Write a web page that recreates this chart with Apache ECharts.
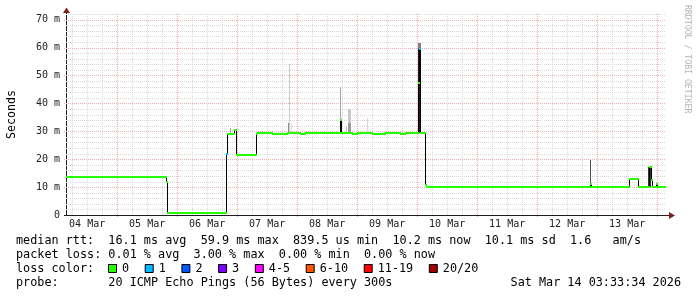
<!DOCTYPE html>
<html><head><meta charset="utf-8">
<script src="https://cdn.jsdelivr.net/npm/echarts@6/dist/echarts.min.js"></script>
<style>html,body{margin:0;padding:0;background:#fff}#c{width:697px;height:297px}</style>
</head><body><div id="c"></div>
<script>
// ---- data (x in hours since 04 Mar 00:00, y in milliseconds) ----
const startHour = 3.55, endHour = 243.55;
const dayLabels = ['04 Mar','05 Mar','06 Mar','07 Mar','08 Mar','09 Mar','10 Mar','11 Mar','12 Mar','13 Mar'];
const dayLabelHours = [12,36,60,84,108,132,156,180,204,228];
const yTickValues = [0,10,20,30,40,50,60,70];
const yTickLabels = ['0','10 m','20 m','30 m','40 m','50 m','60 m','70 m'];
const yMax = 72;
// median steps: [start hour, median ms, loss count]
const medianSteps = [
  [3.55,13.75,0],[43.6,11.9,0],[44.0,0.8,0],
  [67.4,21.9,1],[67.9,29.0,0],[70.8,30.6,0],[71.7,21.5,0],
  [79.4,29.0,0],[80.0,29.3,0],[86.0,29.1,0],[92.0,29.3,0],[97.0,29.0,0],[99.0,29.3,0],
  [104.0,29.5,0],[106.0,29.2,0],[113.3,34.0,0],[113.7,29.3,0],[118.0,29.0,0],[120.0,29.3,0],
  [126.0,29.1,0],[131.0,29.3,0],[137.0,29.0,0],[139.0,29.3,0],
  [144.5,47.3,0],[144.9,59.5,1],[145.3,29.2,0],
  [147.3,10.7,0],[147.6,10.1,0],
  [213.2,11.0,0],[213.6,10.1,0],
  [228.9,13.0,0],[232.3,10.1,0],
  [236.6,17.3,0],[237.6,12.5,0],[238.0,10.1,0],
  [239.6,11.0,0],[240.0,10.1,0]
];
// smoke: [start hour, end hour, low ms, high ms, density 0..1]
const smoke = [
  [69.3,69.7,29.0,31.3,0.35],
  [92.2,92.6,29.3,33.0,0.45],
  [92.6,93.0,29.3,54.0,0.2],
  [93.7,94.1,29.3,33.0,0.15],
  [113.3,113.7,34.0,46.0,0.35],
  [115.4,115.8,29.3,31.6,0.25],
  [116.3,117.5,29.3,38.0,0.22],
  [116.3,117.5,29.3,33.0,0.4],
  [123.9,124.3,29.3,34.8,0.15],
  [144.3,145.6,29.2,59.5,0.9],
  [144.3,145.6,59.5,61.6,0.5],
  [213.1,213.5,10.1,19.7,0.7],
  [236.3,237.6,10.1,17.3,0.8]
];
const lossLabels = ['0','1','2','3','4-5','6-10','11-19','20/20'];
const lossColors = ['#26ff00','#00b8ff','#0059ff','#7e00ff','#ff00ff','#ff5500','#ff0000','#a10000'];
const legendLines = [
  'median rtt:  16.1 ms avg  59.9 ms max  839.5 us min  10.2 ms now  10.1 ms sd  1.6   am/s',
  'packet loss: 0.01 % avg  3.00 % max  0.00 % min  0.00 % now',
  'loss color:',
  'probe:       20 ICMP Echo Pings (56 Bytes) every 300s'
];
const stampText = 'Sat Mar 14 03:33:34 2026';
const watermark = 'RRDTOOL / TOBI OETIKER';

// ---- layout ----
const G = {left:66, top:14, width:600, height:201};
const MONO = '"DejaVu Sans Mono", monospace';
const LEG_FONT = '11.8px ' + MONO;
const axisColor = '#1f1f1f', arrowColor = '#801f1f';
const majorGrid = '#eeb0b0', minorGrid = '#d8d8d8';

// grid line items (derived)
const gridItems = [];
for (let h = 6; h < endHour; h += 6) if (h > startHour) gridItems.push(['v', h, h % 24 === 0 ? 1 : 0]);
for (let v = 2; v <= yMax; v += 2) gridItems.push(['h', v, v % 10 === 0 ? 1 : 0]);

const medianData = medianSteps.map((s, i) => [
  s[0], i + 1 < medianSteps.length ? medianSteps[i + 1][0] : endHour, s[1], s[2],
  i > 0 ? medianSteps[i - 1][1] : -1
]);

const chart = echarts.init(document.getElementById('c'), null, {renderer: 'canvas'});

function renderGrid(params, api) {
  const cs = params.coordSys;
  const kind = api.value(0), val = api.value(1), major = api.value(2);
  const style = {stroke: major ? majorGrid : minorGrid, lineWidth: 1, lineDash: [1, 1]};
  if (kind === 'v') {
    const x = Math.round(api.coord([val, 0])[0]) + 0.5;
    return {type: 'line', shape: {x1: x, y1: cs.y, x2: x, y2: cs.y + cs.height + (major ? 3 : 0)}, style};
  } else {
    const y = Math.round(api.coord([startHour, val])[1]) + 0.5;
    return {type: 'line', shape: {x1: cs.x - (major ? 2 : 0), y1: y, x2: cs.x + cs.width, y2: y}, style};
  }
}
function renderSmoke(params, api) {
  const a = api.coord([api.value(0), api.value(3)]);
  const b = api.coord([api.value(1), api.value(2)]);
  const d = api.value(4);
  const g = Math.round(255 * (1 - d));
  const x0 = Math.round(a[0]), x1 = Math.max(Math.round(b[0]), x0 + 1);
  return {type: 'rect', shape: {x: x0, y: Math.round(a[1]), width: x1 - x0, height: Math.round(b[1]) - Math.round(a[1])},
    style: {fill: 'rgb(' + g + ',' + g + ',' + g + ')'}};
}
function renderTransitions(params, api) {
  const prev = api.value(4);
  if (prev < 0) return null;
  const p0 = api.coord([api.value(0), api.value(2)]);
  const pp = api.coord([api.value(0), prev]);
  const x = Math.round(p0[0]) + 0.5;
  return {type: 'line', shape: {x1: x, y1: Math.round(pp[1]), x2: x, y2: Math.round(p0[1])}, style: {stroke: '#000', lineWidth: 1}};
}
function renderMedian(params, api) {
  const v = api.value(2);
  const p0 = api.coord([api.value(0), v]);
  const p1 = api.coord([api.value(1), v]);
  const y = Math.round(p0[1]);
  return {type: 'line', shape: {x1: Math.round(p0[0]), y1: y, x2: Math.round(p1[0]) + 1, y2: y},
    style: {stroke: lossColors[api.value(3)], lineWidth: 2}};
}

// legend graphics
const graphics = [];
const rowY = [241, 255, 269, 283];
legendLines.forEach((t, i) => graphics.push({type: 'text', x: 16, y: rowY[i],
  style: {text: t, font: LEG_FONT, fill: '#000', verticalAlign: 'middle', align: 'left'}}));
graphics.push({type: 'text', x: 681, y: rowY[3], style: {text: stampText, font: LEG_FONT, fill: '#000', verticalAlign: 'middle', align: 'right'}});
let sx = 108.5;
lossLabels.forEach((lab, i) => {
  graphics.push({type: 'rect', shape: {x: sx, y: 264.5, width: 8, height: 8}, style: {fill: lossColors[i], stroke: '#000', lineWidth: 1}});
  graphics.push({type: 'text', x: sx + 13.5, y: rowY[2], style: {text: lab, font: LEG_FONT, fill: '#000', verticalAlign: 'middle', align: 'left'}});
  sx += 29.6 + 7.1 * lab.length;
});
// y-axis title & watermark
graphics.push({type: 'text', x: 11.5, y: G.top + G.height / 2, rotation: Math.PI / 2,
  style: {text: 'Seconds', font: '11.6px ' + MONO, fill: '#000', align: 'center', verticalAlign: 'middle'}});
graphics.push({type: 'text', x: 687, y: 5, rotation: -Math.PI / 2,
  style: {text: watermark, font: '8.2px ' + MONO, fill: '#b4b4b4', align: 'left', verticalAlign: 'middle'}});
// axis lines and arrows
const ax = G.left + 0.5, ay = G.top + G.height + 0.5;
graphics.push({type: 'line', shape: {x1: ax, y1: ay, x2: ax, y2: 11}, style: {stroke: axisColor, lineWidth: 1}});
graphics.push({type: 'line', shape: {x1: G.left - 2, y1: ay, x2: G.left + G.width + 3, y2: ay}, style: {stroke: axisColor, lineWidth: 1}});
graphics.push({type: 'polygon', shape: {points: [[ax, 7.5], [ax - 3.5, 13], [ax + 3.5, 13]]}, style: {fill: arrowColor}});
graphics.push({type: 'polygon', shape: {points: [[G.left + G.width + 9, ay], [G.left + G.width + 3, ay - 3.5], [G.left + G.width + 3, ay + 3.5]]}, style: {fill: arrowColor}});

chart.setOption({
  animation: false,
  backgroundColor: '#fff',
  grid: {left: G.left, top: G.top, width: G.width, height: G.height, containLabel: false},
  xAxis: {
    type: 'value', min: startHour, max: endHour,
    axisLine: {show: false}, splitLine: {show: false},
    axisTick: {show: false},
    axisLabel: {customValues: dayLabelHours, margin: 4, color: '#222', fontFamily: MONO, fontSize: 10,
      formatter: v => { const i = dayLabelHours.indexOf(v); return i >= 0 ? dayLabels[i] : ''; }}
  },
  yAxis: {
    type: 'value', min: 0, max: yMax, interval: 10,
    axisLine: {show: false}, splitLine: {show: false}, axisTick: {show: false},
    axisLabel: {margin: 6, color: '#222', fontFamily: MONO, fontSize: 10, showMaxLabel: false,
      formatter: v => { const i = yTickValues.indexOf(v); return i >= 0 ? yTickLabels[i] : ''; }}
  },
  graphic: graphics,
  series: [
    {type: 'custom', data: gridItems, renderItem: renderGrid, silent: true, z: 1, clip: false,
      encode: {x: 1, y: 1}, dimensions: [{name: 'k', type: 'ordinal'}, 'v', 'm']},
    {type: 'custom', data: smoke, renderItem: renderSmoke, silent: true, z: 2, clip: true, encode: {x: [0, 1], y: [2, 3]}},
    {type: 'custom', data: medianData, renderItem: renderTransitions, silent: true, z: 3, clip: true, encode: {x: [0, 1], y: 2}},
    {type: 'custom', data: medianData, renderItem: renderMedian, silent: true, z: 4, clip: true, encode: {x: [0, 1], y: 2}}
  ]
});
</script>
</body></html>
